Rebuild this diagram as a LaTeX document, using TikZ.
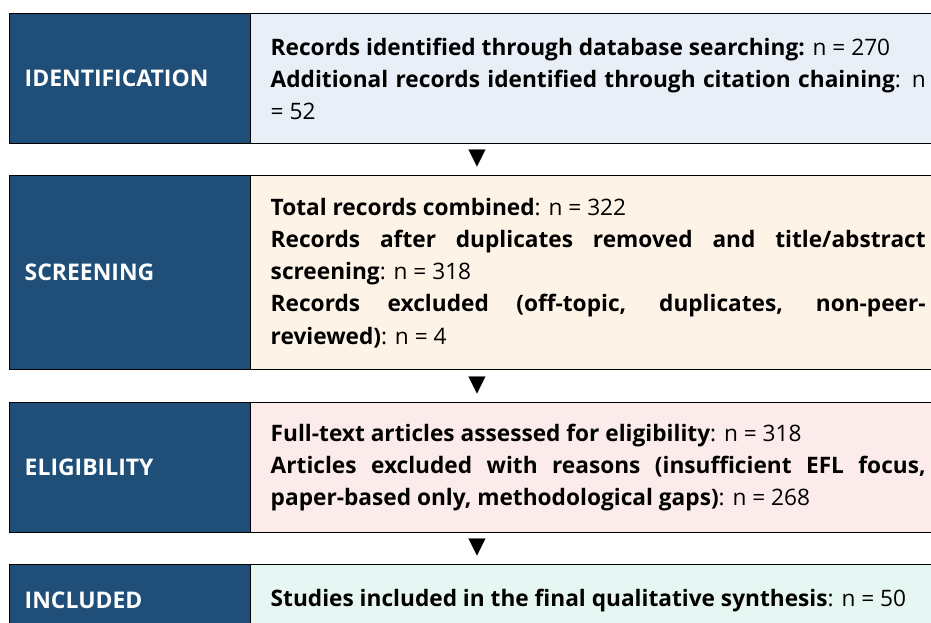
\documentclass[tikz,border=0pt]{standalone}
\usepackage{fontspec}
\setmainfont{Open Sans}
\newfontfamily\symfont{DejaVu Sans}
\definecolor{hdr}{HTML}{1F4E79}
\definecolor{idfill}{HTML}{E8EFF7}
\definecolor{scfill}{HTML}{FDF3E6}
\definecolor{elfill}{HTML}{FCEBEB}
\definecolor{infill}{HTML}{E6F6F3}
\tikzset{
  cellline/.style={draw=black, line width=1.1pt},
  stagecell/.style={cellline, fill=hdr, text=white, anchor=north west,
    minimum width=180.75pt, text width=158.25pt, inner xsep=11.25pt,
    align=left, font=\fontsize{17.2}{24.2}\selectfont\bfseries},
  infocell/.style={cellline, anchor=north west,
    minimum width=521.25pt, text width=491.25pt, inner xsep=15pt,
    align=justify, font=\fontsize{17}{24.2}\selectfont},
  downmark/.style={font=\symfont\fontsize{17}{17}\selectfont, inner sep=0pt}
}
\begin{document}
\begin{tikzpicture}[x=0.75pt,y=-0.75pt]
\useasboundingbox (0,0) rectangle (931,623);
\clip (0,0) rectangle (931,623);
% row 1
\node[stagecell, minimum height=97.5pt] (s1) at (9,13) {IDENTIFICATION};
\node[infocell, fill=idfill, minimum height=97.5pt] (c1) at (250,13)
 {\textbf{Records identified through database searching:} n = 270\par
  \textbf{Additional records identified through citation chaining}: n\linebreak = 52};
\node[downmark] (a1) at (477,159) {▼};
% row 2
\node[stagecell, minimum height=145.5pt] (s2) at (9,175) {SCREENING};
\node[infocell, fill=scfill, minimum height=145.5pt] (c2) at (250,175)
 {\textbf{Total records combined}: n = 322\par
  \textbf{Records after duplicates removed and title/abstract\linebreak screening}: n = 318\par
  \textbf{Records excluded (off-topic, duplicates, non-peer-\linebreak reviewed)}: n = 4};
\node[downmark] (a2) at (477,386) {▼};
% row 3
\node[stagecell, minimum height=97.5pt] (s3) at (9,402) {ELIGIBILITY};
\node[infocell, fill=elfill, minimum height=97.5pt] (c3) at (250,402)
 {\textbf{Full-text articles assessed for eligibility}: n = 318\par
  \textbf{Articles excluded with reasons (insufficient EFL focus,\linebreak paper-based only, methodological gaps)}: n = 268};
\node[downmark] (a3) at (477,548) {▼};
% row 4
\node[stagecell, minimum height=54pt] (s4) at (9,564) {INCLUDED};
\node[infocell, fill=infill, minimum height=54pt] (c4) at (250,564)
 {\textbf{Studies included in the final qualitative synthesis}: n = 50};
\end{tikzpicture}
\end{document}
